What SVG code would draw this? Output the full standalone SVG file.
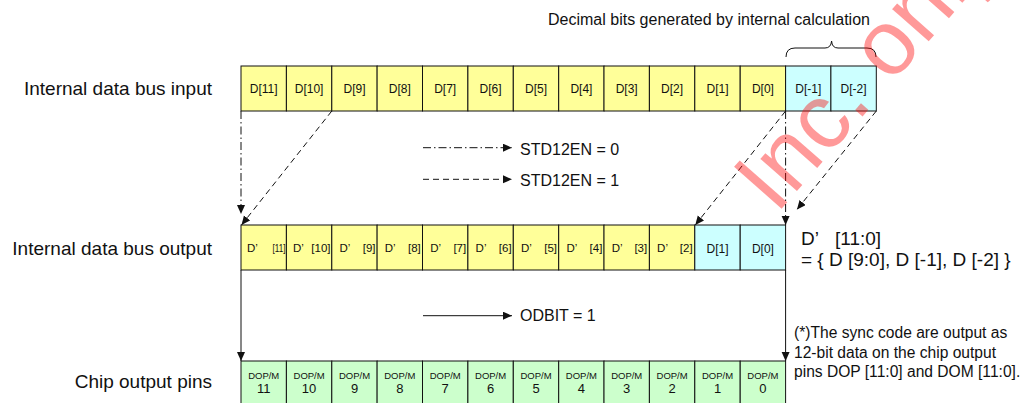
<svg xmlns="http://www.w3.org/2000/svg" width="1029" height="403" viewBox="0 0 1029 403">
<defs>
<style>
text{font-family:"Liberation Sans",Arial,sans-serif;fill:#111}
.cell{stroke:#111;stroke-width:1}
.y{fill:#ffff99}.c{fill:#ccffff}.g{fill:#ccffcc}
.lb{font-size:12px;text-anchor:middle}
.dp{font-size:11.5px}
.pin{font-size:9.5px;text-anchor:middle}
.num{font-size:13px;text-anchor:middle}
.big{font-size:19px}
.mid{font-size:16px}
.ln{fill:none;stroke:#111;stroke-width:1}
.dash{stroke-dasharray:6 4}
.dd{stroke-dasharray:8 3 1.5 3}
</style>
<marker id="ah" markerUnits="userSpaceOnUse" markerWidth="10" markerHeight="9" refX="9" refY="4" orient="auto">
<path d="M0,0 L9,4 L0,8 z" fill="#111"/>
</marker>
</defs>
<rect width="1029" height="403" fill="#fff"/>

<text class="mid" x="548" y="25">Decimal bits generated by internal calculation</text>
<path class="ln" d="M786,57 Q786,48 795,48 L825,48 Q831,48 831.6,41 Q832,48 838,48 L867,48 Q876,48 876,57"/>

<text class="big" x="212" y="95" text-anchor="end">Internal data bus input</text>
<text class="big" x="212" y="255" text-anchor="end">Internal data bus output</text>
<text class="big" x="212" y="388" text-anchor="end">Chip output pins</text>

<g id="input-bus">
<g id="in-11"><rect class="cell y" x="241" y="66" width="45.4" height="45"/><text class="lb" x="263.7" y="93">D[11]</text></g>
<g id="in-10"><rect class="cell y" x="286.4" y="66" width="45.4" height="45"/><text class="lb" x="309.1" y="93">D[10]</text></g>
<g id="in-9"><rect class="cell y" x="331.8" y="66" width="45.4" height="45"/><text class="lb" x="354.5" y="93">D[9]</text></g>
<g id="in-8"><rect class="cell y" x="377.1" y="66" width="45.4" height="45"/><text class="lb" x="399.8" y="93">D[8]</text></g>
<g id="in-7"><rect class="cell y" x="422.5" y="66" width="45.4" height="45"/><text class="lb" x="445.2" y="93">D[7]</text></g>
<g id="in-6"><rect class="cell y" x="467.9" y="66" width="45.4" height="45"/><text class="lb" x="490.6" y="93">D[6]</text></g>
<g id="in-5"><rect class="cell y" x="513.3" y="66" width="45.4" height="45"/><text class="lb" x="536" y="93">D[5]</text></g>
<g id="in-4"><rect class="cell y" x="558.7" y="66" width="45.4" height="45"/><text class="lb" x="581.4" y="93">D[4]</text></g>
<g id="in-3"><rect class="cell y" x="604" y="66" width="45.4" height="45"/><text class="lb" x="626.7" y="93">D[3]</text></g>
<g id="in-2"><rect class="cell y" x="649.4" y="66" width="45.4" height="45"/><text class="lb" x="672.1" y="93">D[2]</text></g>
<g id="in-1"><rect class="cell y" x="694.8" y="66" width="45.4" height="45"/><text class="lb" x="717.5" y="93">D[1]</text></g>
<g id="in-0"><rect class="cell y" x="740.2" y="66" width="45.4" height="45"/><text class="lb" x="762.9" y="93">D[0]</text></g>
<g id="in-m1"><rect class="cell c" x="785.6" y="66" width="45.4" height="45"/><text class="lb" x="808.3" y="93">D[-1]</text></g>
<g id="in-m2"><rect class="cell c" x="830.9" y="66" width="45.4" height="45"/><text class="lb" x="853.6" y="93">D[-2]</text></g>
</g>

<g id="output-bus">
<g id="out-11"><rect class="cell y" x="241" y="225" width="45.4" height="45"/><text class="dp" x="247" y="252">D’</text><text class="dp" x="285.5" y="252" text-anchor="end" textLength="13" lengthAdjust="spacingAndGlyphs">[11]</text></g>
<g id="out-10"><rect class="cell y" x="286.4" y="225" width="45.4" height="45"/><text class="dp" x="293" y="252">D’</text><text class="dp" x="330.5" y="252" text-anchor="end">[10]</text></g>
<g id="out-9"><rect class="cell y" x="331.8" y="225" width="45.4" height="45"/><text class="dp" x="339.5" y="252">D’</text><text class="dp" x="375.5" y="252" text-anchor="end">[9]</text></g>
<g id="out-8"><rect class="cell y" x="377.1" y="225" width="45.4" height="45"/><text class="dp" x="384.8" y="252">D’</text><text class="dp" x="420.8" y="252" text-anchor="end">[8]</text></g>
<g id="out-7"><rect class="cell y" x="422.5" y="225" width="45.4" height="45"/><text class="dp" x="430.2" y="252">D’</text><text class="dp" x="466.2" y="252" text-anchor="end">[7]</text></g>
<g id="out-6"><rect class="cell y" x="467.9" y="225" width="45.4" height="45"/><text class="dp" x="475.6" y="252">D’</text><text class="dp" x="511.6" y="252" text-anchor="end">[6]</text></g>
<g id="out-5"><rect class="cell y" x="513.3" y="225" width="45.4" height="45"/><text class="dp" x="521" y="252">D’</text><text class="dp" x="557" y="252" text-anchor="end">[5]</text></g>
<g id="out-4"><rect class="cell y" x="558.7" y="225" width="45.4" height="45"/><text class="dp" x="566.4" y="252">D’</text><text class="dp" x="602.4" y="252" text-anchor="end">[4]</text></g>
<g id="out-3"><rect class="cell y" x="604" y="225" width="45.4" height="45"/><text class="dp" x="611.7" y="252">D’</text><text class="dp" x="647.2" y="252" text-anchor="end">[3]</text></g>
<g id="out-2"><rect class="cell y" x="649.4" y="225" width="45.4" height="45"/><text class="dp" x="657.1" y="252">D’</text><text class="dp" x="692.6" y="252" text-anchor="end">[2]</text></g>
<g id="out-1"><rect class="cell c" x="694.8" y="225" width="45.4" height="45"/><text class="lb" x="717.5" y="253">D[1]</text></g>
<g id="out-0"><rect class="cell c" x="740.2" y="225" width="45.4" height="45"/><text class="lb" x="762.9" y="253">D[0]</text></g>
</g>

<g id="pins">
<g id="pin-11"><rect class="cell g" x="241" y="361" width="45.4" height="46"/><text class="pin" x="263.7" y="379">DOP/M</text><text class="num" x="263.7" y="393">11</text></g>
<g id="pin-10"><rect class="cell g" x="286.4" y="361" width="45.4" height="46"/><text class="pin" x="309.1" y="379">DOP/M</text><text class="num" x="309.1" y="393">10</text></g>
<g id="pin-9"><rect class="cell g" x="331.8" y="361" width="45.4" height="46"/><text class="pin" x="354.5" y="379">DOP/M</text><text class="num" x="354.5" y="393">9</text></g>
<g id="pin-8"><rect class="cell g" x="377.1" y="361" width="45.4" height="46"/><text class="pin" x="399.8" y="379">DOP/M</text><text class="num" x="399.8" y="393">8</text></g>
<g id="pin-7"><rect class="cell g" x="422.5" y="361" width="45.4" height="46"/><text class="pin" x="445.2" y="379">DOP/M</text><text class="num" x="445.2" y="393">7</text></g>
<g id="pin-6"><rect class="cell g" x="467.9" y="361" width="45.4" height="46"/><text class="pin" x="490.6" y="379">DOP/M</text><text class="num" x="490.6" y="393">6</text></g>
<g id="pin-5"><rect class="cell g" x="513.3" y="361" width="45.4" height="46"/><text class="pin" x="536" y="379">DOP/M</text><text class="num" x="536" y="393">5</text></g>
<g id="pin-4"><rect class="cell g" x="558.7" y="361" width="45.4" height="46"/><text class="pin" x="581.4" y="379">DOP/M</text><text class="num" x="581.4" y="393">4</text></g>
<g id="pin-3"><rect class="cell g" x="604" y="361" width="45.4" height="46"/><text class="pin" x="626.7" y="379">DOP/M</text><text class="num" x="626.7" y="393">3</text></g>
<g id="pin-2"><rect class="cell g" x="649.4" y="361" width="45.4" height="46"/><text class="pin" x="672.1" y="379">DOP/M</text><text class="num" x="672.1" y="393">2</text></g>
<g id="pin-1"><rect class="cell g" x="694.8" y="361" width="45.4" height="46"/><text class="pin" x="717.5" y="379">DOP/M</text><text class="num" x="717.5" y="393">1</text></g>
<g id="pin-0"><rect class="cell g" x="740.2" y="361" width="45.4" height="46"/><text class="pin" x="762.9" y="379">DOP/M</text><text class="num" x="762.9" y="393">0</text></g>
</g>

<g id="connectors">
<path class="ln dd" d="M241,111 L241,214" marker-end="url(#ah)"/>
<path class="ln dash" d="M331.8,111 L241.5,225" marker-end="url(#ah)"/>
<path class="ln dash" d="M785.6,111 L695.3,225" marker-end="url(#ah)"/>
<path class="ln dd" d="M785.6,111 L785.6,225" marker-end="url(#ah)"/>
<path class="ln dash" d="M876.3,111 L797,209.5" marker-end="url(#ah)"/>
<path class="ln" d="M241,270 L241,361" marker-end="url(#ah)"/>
<path class="ln" d="M785.6,270 L785.6,361" marker-end="url(#ah)"/>
<path class="ln dd" d="M423,147.7 L512,147.7" marker-end="url(#ah)"/>
<path class="ln dash" d="M423,179.3 L512,179.3" marker-end="url(#ah)"/>
<path class="ln" d="M423,315.7 L512,315.7" marker-end="url(#ah)"/>
</g>

<text class="mid" x="520" y="155">STD12EN = 0</text>
<text class="mid" x="520" y="186">STD12EN = 1</text>
<text class="mid" x="520" y="321">ODBIT = 1</text>

<text class="big" x="801" y="245">D’<tspan x="835">[11:0]</tspan></text>
<text class="big" x="801" y="266">= { D [9:0], D [-1], D [-2] }</text>

<g font-size="15.6px">
<text x="794" y="338">(*)The sync code are output as</text>
<text x="794" y="357.5">12-bit data on the chip output</text>
<text x="794" y="377">pins DOP [11:0] and DOM [11:0].</text>
</g>

<text x="0" y="0" font-size="92px" fill-opacity="0.4" transform="translate(776,215) rotate(-48.7)" style="fill:#ff0000">Inc. only</text>
</svg>
